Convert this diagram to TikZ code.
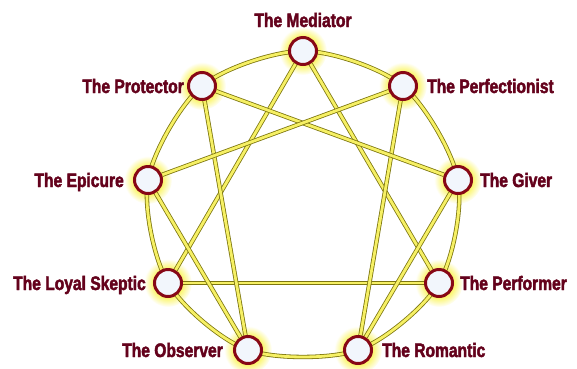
\documentclass[tikz,border=0pt]{standalone}
\usepackage{fontspec}
\newfontfamily\lblfont{Liberation Sans}[FakeStretch=0.80, BoldFeatures={FakeBold=2.2}]
\pgfdeclarelayer{glow}
\pgfdeclarelayer{bg}
\pgfsetlayers{glow,bg,main}
\definecolor{lineyel}{RGB}{246,240,100}
\definecolor{lineol}{RGB}{125,118,15}
\definecolor{ringred}{RGB}{135,8,22}
\definecolor{txtred}{RGB}{100,2,28}
\definecolor{fillw}{RGB}{242,246,252}
\definecolor{glowy}{RGB}{250,244,90}
\pgfdeclareradialshading{halofade}{\pgfpoint{0bp}{0bp}}{color(0bp)=(glowy); color(14bp)=(glowy); color(25bp)=(white); color(50bp)=(white)}
\tikzset{
  pt/.style={circle, draw=ringred, line width=3pt, fill=fillw, minimum size=27pt, inner sep=0pt},
  lbl/.style={font=\lblfont\bfseries\fontsize{19.5}{20}\selectfont, text=txtred, inner sep=0pt},
  link/.style={draw=lineol, line width=0.8pt, double=lineyel, double distance=2.8pt},
  halo/.style={shading=halofade}
}
\begin{document}
\begin{tikzpicture}[x=1pt,y=-1pt]
\useasboundingbox (0,0) rectangle (577,368);
% points
\node[pt] (M)  at (303,51) {};
\node[pt] (Pf) at (403,86) {};
\node[pt] (G)  at (458,180) {};
\node[pt] (Pm) at (439,283) {};
\node[pt] (R)  at (358,350) {};
\node[pt] (O)  at (248,350) {};
\node[pt] (L)  at (168,283) {};
\node[pt] (E)  at (148,180) {};
\node[pt] (Pt) at (202,86) {};
% labels
\node[lbl, anchor=base] (tM) at (303,27) {The Mediator};
\node[lbl, anchor=base east] (tPt) at (184,93) {The Protector};
\node[lbl, anchor=base west] (tPf) at (427,93) {The Perfectionist};
\node[lbl, anchor=base east] (tE) at (124,187) {The Epicure};
\node[lbl, anchor=base west] (tG) at (480,187) {The Giver};
\node[lbl, anchor=base east] (tL) at (146,290) {The Loyal Skeptic};
\node[lbl, anchor=base west] (tPm) at (460,290) {The Performer};
\node[lbl, anchor=base east] (tO) at (223,357) {The Observer};
\node[lbl, anchor=base west] (tR) at (382,357) {The Romantic};
% halos
\begin{pgfonlayer}{glow}
\foreach \n in {M,Pf,G,Pm,R,O,L,E,Pt}
  \shade[halo] (\n.center) circle (24pt);
\end{pgfonlayer}
% connectors
\begin{pgfonlayer}{bg}
\draw[link] plot[smooth cycle] coordinates {(M) (Pf) (G) (Pm) (R) (O) (L) (E) (Pt)};
\draw[link] (M) -- (Pm);
\draw[link] (Pm) -- (L);
\draw[link] (L) -- (M);
\draw[link] (Pf) -- (R);
\draw[link] (R) -- (G);
\draw[link] (G) -- (Pt);
\draw[link] (Pt) -- (O);
\draw[link] (O) -- (E);
\draw[link] (E) -- (Pf);
\end{pgfonlayer}
\end{tikzpicture}
\end{document}
